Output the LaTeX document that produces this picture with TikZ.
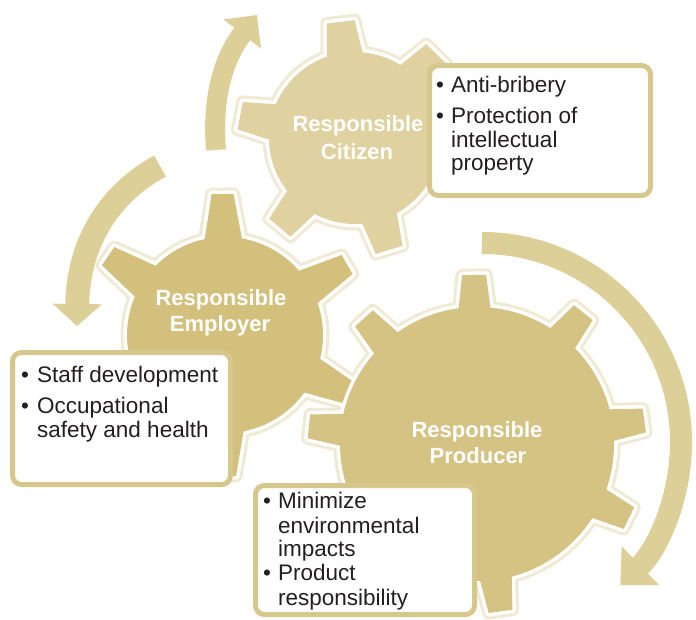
\documentclass[tikz,border=0pt]{standalone}
\usepackage{fontspec}
\setmainfont{Liberation Sans}
\usetikzlibrary{arrows.meta,calc}
\definecolor{gearP}{RGB}{212,195,130}
\definecolor{gearE}{RGB}{210,192,124}
\definecolor{gearC}{RGB}{223,210,160}
\definecolor{arrowcol}{RGB}{221,207,152}
\definecolor{boxline}{RGB}{214,199,140}
\definecolor{txt}{RGB}{35,31,32}
\definecolor{halo}{RGB}{240,234,212}
% #1 style, #2 cx, #3 cy, #4 body radius, #5 tip radius, #6 half base, #7 half tip, #8 angles
\newcommand\drawgear[8]{%
  \begin{scope}[shift={(#2,#3)}]
    \path[#1] (0,0) circle[radius=#4];
    \foreach \a in {#8}{\path[#1,rotate=\a] (#4-10,-#6) -- (#5,-#7) -- (#5,#7) -- (#4-10,#6) -- cycle;}
  \end{scope}}
\tikzset{
  haloline/.style={draw=halo,line width=13,line join=round},
  whiteline/.style={draw=white,fill=white,line width=7,line join=round},
  gearfill/.style={fill=#1},
  infobox/.style={draw=boxline,line width=5,fill=white,rounded corners=9,inner sep=0pt},
  boxtxt/.style={font=\fontsize{22.5}{25}\selectfont,text=txt,inner sep=0pt,anchor=base west},
  glabel/.style={font=\bfseries\fontsize{22}{26}\selectfont,text=white,inner sep=0pt,anchor=base},
  bigarrow/.style={draw=arrowcol,line width=#1}
}
\begin{document}
\begin{tikzpicture}[x=1pt,y=1pt]
\useasboundingbox (0,0) rectangle (696,-619);
\fill[white] (0,0) rectangle (696,-619);
% arrows
\coordinate (a1s) at (216,-150);
\coordinate (a1e) at (257,-15);
\draw[bigarrow=20,-{Triangle[length=24pt,width=46pt]}] (a1s) .. controls (212,-100) and (222,-60) .. (a1e);
\coordinate (a2s) at (160,-166);
\coordinate (a2e) at (77,-326);
\draw[bigarrow=24,-{Triangle[length=22pt,width=48pt]}] (a2s) .. controls (112,-192) and (78,-240) .. (a2e);
\coordinate (a3s) at (482,-243);
\draw[bigarrow=22,-{Triangle[length=28pt,width=52pt]}] (a3s) arc[start angle=90,end angle=-46,radius=199] coordinate (a3e);
% halos
\drawgear{haloline}{355}{-138}{86}{117}{19}{14}{46,97,169,230,287,345}
\drawgear{haloline}{225}{-335}{98}{141}{20}{11}{91,146,30,-25,210,270}
\drawgear{haloline}{477}{-444}{137}{169}{17}{12}{8,51,91,132,174,224,278,334}
% gears
\drawgear{whiteline}{355}{-138}{86}{117}{19}{14}{46,97,169,230,287,345}
\drawgear{gearfill=gearC}{355}{-138}{86}{117}{19}{14}{46,97,169,230,287,345}
\drawgear{whiteline}{225}{-335}{98}{141}{20}{11}{91,146,30,-25,210,270}
\drawgear{gearfill=gearE}{225}{-335}{98}{141}{20}{11}{91,146,30,-25,210,270}
\drawgear{whiteline}{477}{-444}{137}{169}{17}{12}{8,51,91,132,174,224,278,334}
\drawgear{gearfill=gearP}{477}{-444}{137}{169}{17}{12}{8,51,91,132,174,224,278,334}
% gear labels
\node[glabel] (lc1) at (358,-131) {Responsible};
\node[glabel] (lc2) at (357,-159) {Citizen};
\node[glabel] (le1) at (221,-305) {Responsible};
\node[glabel] (le2) at (220,-331) {Employer};
\node[glabel] (lp1) at (477,-437) {Responsible};
\node[glabel] (lp2) at (478,-463) {Producer};
% boxes
\node[infobox,minimum width=221pt,minimum height=130pt] (cbox) at (540,-130.5) {};
\node[infobox,minimum width=218pt,minimum height=132pt] (ebox) at (121.5,-418.5) {};
\node[infobox,minimum width=219pt,minimum height=129pt] (pbox) at (365,-550) {};
% citizen text
\node[boxtxt] (cb1) at (436,-92) {•};
\node[boxtxt] (ct1) at (451,-92) {Anti-bribery};
\node[boxtxt] (cb2) at (436,-123) {•};
\node[boxtxt] (ct2) at (451,-123) {Protection of};
\node[boxtxt] (ct3) at (451,-147) {intellectual};
\node[boxtxt] (ct4) at (451,-170) {property};
% employer text
\node[boxtxt] (eb1) at (21,-382) {•};
\node[boxtxt] (et1) at (37,-382) {Staff development};
\node[boxtxt] (eb2) at (21,-413) {•};
\node[boxtxt] (et2) at (37,-413) {Occupational};
\node[boxtxt] (et3) at (37,-437) {safety and health};
% producer text
\node[boxtxt] (pb1) at (263,-508) {•};
\node[boxtxt] (pt1) at (278,-508) {Minimize};
\node[boxtxt] (pt2) at (278,-533) {environmental};
\node[boxtxt] (pt3) at (278,-556) {impacts};
\node[boxtxt] (pb2) at (263,-580) {•};
\node[boxtxt] (pt4) at (278,-580) {Product};
\node[boxtxt] (pt5) at (278,-605) {responsibility};
\end{tikzpicture}
\end{document}
